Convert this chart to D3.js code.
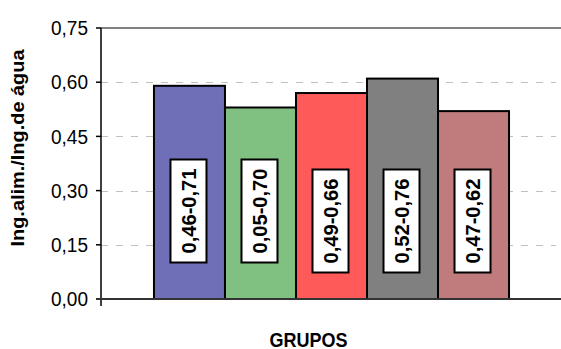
<!DOCTYPE html>
<html>
<head>
<meta charset="utf-8">
<script src="https://cdn.jsdelivr.net/npm/d3@7/dist/d3.min.js"></script>
<style>
  html, body { margin: 0; padding: 0; background: #fff; }
  svg { display: block; font-family: "Liberation Sans", Arial, sans-serif; }
</style>
</head>
<body>
<svg id="chart" width="561" height="349"></svg>
<script>
// Ratio of food intake to water intake per group, with the observed range
const groups = ["G1", "G2", "G3", "G4", "G5"];
const means = [0.59, 0.53, 0.57, 0.61, 0.52];
const ranges = ["0,46-0,71", "0,05-0,70", "0,49-0,66", "0,52-0,76", "0,47-0,62"];
const barColors = ["#6f6fb8", "#80c080", "#ff5a5a", "#808080", "#c07c7c"];
const yTicks = [0, 0.15, 0.30, 0.45, 0.60, 0.75];
const yTitle = "Ing.alim./Ing.de água";
const xTitle = "GRUPOS";

const svg = d3.select("#chart");
const fmt = v => d3.format(".2f")(v).replace(".", ",");

const x = d3.scaleBand().domain(groups).range([101, 562])
  .paddingInner(0).paddingOuter(0.746);
const y = d3.scaleLinear().domain([0, 0.75]).range([299, 28]);

// dashed gridlines
svg.append("g").selectAll("line")
  .data(yTicks.filter(t => t > 0 && t < 0.75))
  .join("line")
  .attr("x1", 101).attr("x2", 556)
  .attr("y1", d => Math.round(y(d)) + 0.5).attr("y2", d => Math.round(y(d)) + 0.5)
  .attr("stroke", "#c0c0c0").attr("stroke-width", 1.2)
  .attr("stroke-dasharray", "7,8");

// top border of the plot area
svg.append("line")
  .attr("x1", 101).attr("x2", 561)
  .attr("y1", y(0.75)).attr("y2", y(0.75))
  .attr("stroke", "#808080").attr("stroke-width", 2);

// bars
svg.append("g").selectAll("rect")
  .data(groups)
  .join("rect")
  .attr("x", d => x(d))
  .attr("y", (d, i) => y(means[i]))
  .attr("width", x.bandwidth())
  .attr("height", (d, i) => y(0) - y(means[i]))
  .attr("fill", (d, i) => barColors[i])
  .attr("stroke", "#000").attr("stroke-width", 2);

// boxed range labels, rotated inside each bar
const labelOffset = [211, 211, 221, 221, 221];
const lab = svg.append("g").selectAll("g")
  .data(groups)
  .join("g")
  .attr("transform", (d, i) => `translate(${x(d) + x.bandwidth() / 2 - 1},${labelOffset[i]})`);
lab.append("rect")
  .attr("x", -18).attr("y", -51.5).attr("width", 36).attr("height", 103)
  .attr("fill", "#fff").attr("stroke", "#000").attr("stroke-width", 2);
lab.append("text")
  .attr("transform", "rotate(-90)")
  .attr("text-anchor", "middle")
  .attr("dy", "0.36em")
  .attr("font-size", 21).attr("font-weight", "bold")
  .attr("textLength", 85).attr("lengthAdjust", "spacingAndGlyphs")
  .text((d, i) => ranges[i]);

// y axis
svg.append("line")
  .attr("x1", 101).attr("x2", 101).attr("y1", 28).attr("y2", 306)
  .attr("stroke", "#000").attr("stroke-width", 1.5);
const yt = svg.append("g").selectAll("g")
  .data(yTicks).join("g")
  .attr("transform", d => `translate(0,${y(d)})`);
yt.append("line")
  .attr("x1", 96).attr("x2", 101)
  .attr("stroke", "#000").attr("stroke-width", 1.5);
yt.append("text")
  .attr("x", 88).attr("dy", "0.36em")
  .attr("text-anchor", "end")
  .attr("font-size", 20)
  .attr("textLength", 37).attr("lengthAdjust", "spacingAndGlyphs")
  .text(d => fmt(d));

// x axis baseline
svg.append("line")
  .attr("x1", 96).attr("x2", 561)
  .attr("y1", y(0)).attr("y2", y(0))
  .attr("stroke", "#333").attr("stroke-width", 2);

// axis titles
svg.append("text")
  .attr("transform", "translate(23.5,148) rotate(-90)")
  .attr("text-anchor", "middle")
  .attr("font-size", 18).attr("font-weight", "bold")
  .attr("textLength", 197).attr("lengthAdjust", "spacingAndGlyphs")
  .text(yTitle);
svg.append("text")
  .attr("x", 308.5).attr("y", 346.5)
  .attr("text-anchor", "middle")
  .attr("font-size", 20).attr("font-weight", "bold")
  .attr("textLength", 78).attr("lengthAdjust", "spacingAndGlyphs")
  .text(xTitle);
</script>
</body>
</html>
